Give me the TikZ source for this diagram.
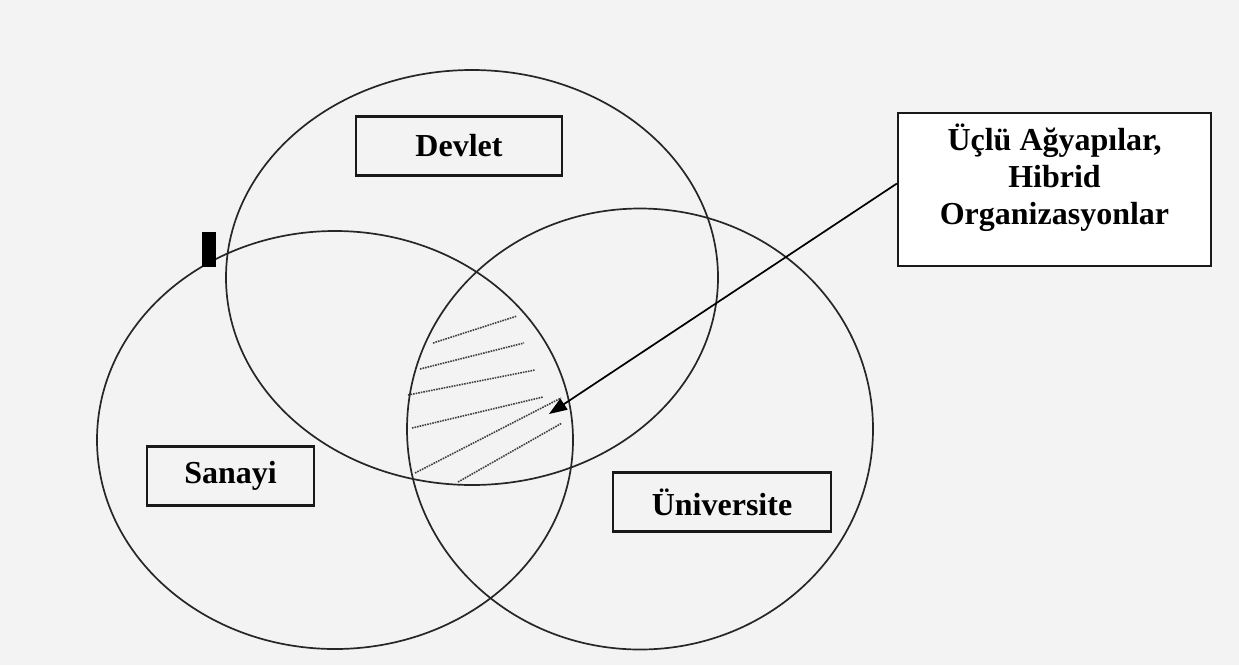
\documentclass[tikz,border=0pt]{standalone}
\usepackage{fontspec}
\setmainfont{Liberation Serif}
\usepackage{tikz}
\usetikzlibrary{shapes,arrows.meta,positioning}
\definecolor{pagegray}{HTML}{F3F3F3}
\tikzset{
  sector/.style={
    ellipse,
    draw=black!85,
    line width=1.7pt,
    inner sep=0pt
  },
  tagbox/.style={
    rectangle,
    draw=black!90,
    line width=2.2pt,
    minimum height=59pt,
    inner sep=0pt,
    font=\fontsize{32}{37}\selectfont\bfseries
  },
  hatch/.style={
    densely dotted,
    line width=1.6pt,
    black!75
  },
  arrow/.style={
    -{Triangle[length=18pt,width=13pt]},
    line width=1.7pt
  }
}
\begin{document}
\begin{tikzpicture}[x=1pt,y=-1pt]

\fill[pagegray] (0,0) rectangle (1239,665);

% the three spheres
\node[sector, minimum width=492pt, minimum height=415pt] (devletset) at (472,277.5) {};
\node[sector, minimum width=476pt, minimum height=418pt] (sanayiset) at (335,440) {};
\node[sector, minimum width=466pt, minimum height=441pt] (universiteset) at (640,429) {};

% shaded overlap
\foreach \ax/\ay/\bx/\by in {433/343/517/316, 420/369/524/343, 408/395/535/370,
  412/428/543/397, 415/473/561/398, 458/482/562/423}
  \draw[hatch] (\ax,\ay) -- (\bx,\by);

\node[fill=black, minimum width=14pt, minimum height=35pt, inner sep=0pt] (marker) at (208.5,249.5) {};

\node[tagbox, fill=pagegray, minimum width=206pt] (devlet) at (459,146) {Devlet};
\node[tagbox, fill=pagegray, minimum width=167pt] (sanayi) at (230.5,476) {Sanayi};
\node[tagbox, fill=pagegray, minimum width=218pt] (universite) at (722,502) {Üniversite};

\node[tagbox, fill=white, minimum width=313pt, minimum height=153pt, align=center,
  text depth=30pt] (hybrid) at (1054.5,189.5) {Üçlü Ağyapılar,\\Hibrid\\Organizasyonlar};

\coordinate (tip) at (549,414);
\draw[arrow] ([yshift=6pt]hybrid.west) -- (tip);

\end{tikzpicture}
\end{document}
